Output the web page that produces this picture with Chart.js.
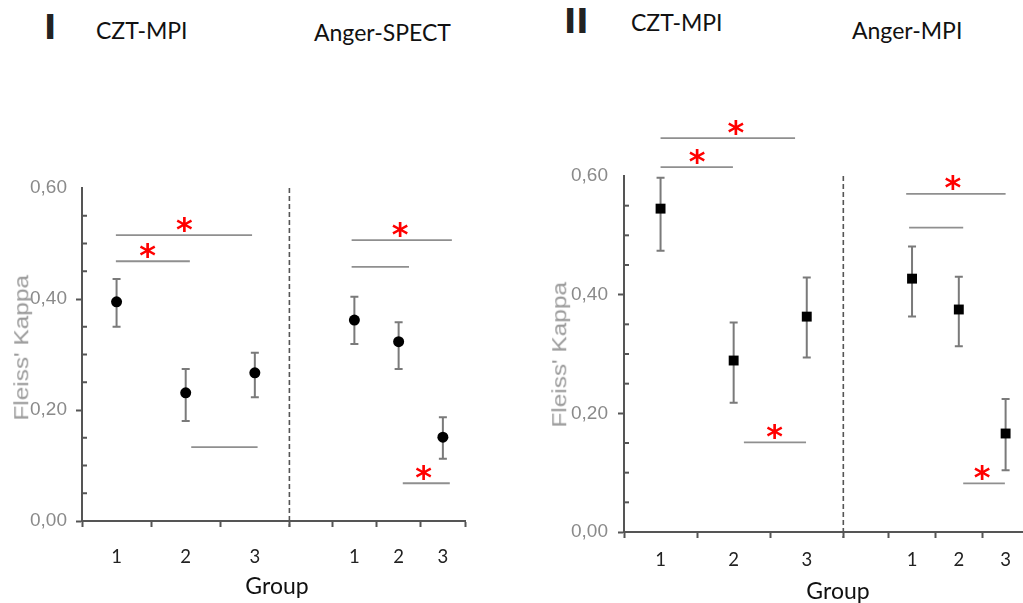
<!DOCTYPE html>
<html lang="en">
<head>
<meta charset="UTF-8">
<title>Fleiss' Kappa by group</title>
<style>
  html, body { margin: 0; padding: 0; background: #fff; overflow: hidden; width: 1023px; height: 603px; }
  body { position: relative; font-family: Lato, sans-serif; color: #111; }
  .lbl { position: absolute; white-space: nowrap; line-height: 1; }
  .roman { font-family: 'DejaVu Sans', sans-serif; font-weight: bold; font-size: 33px; color: #222; }
  .head { font-size: 23px; }
  .group { font-size: 23px; width: 120px; text-align: center; }
  .ytitle { position: absolute; width: 160px; text-align: center; font-family: 'Liberation Sans', Arial, sans-serif;
            font-size: 19.5px; line-height: 1; color: #9a9a9a; transform: rotate(-90deg) scaleX(1.25); }
  canvas { position: absolute; top: 0; }
</style>
</head>
<body>
  <div class="lbl roman" style="left:44px; top:11px;">I</div>
  <div class="lbl head" style="left:96px; top:19px;">CZT-MPI</div>
  <div class="lbl head" style="left:314px; top:21px;">Anger-SPECT</div>
  <div class="lbl roman" style="left:564px; top:5px;">II</div>
  <div class="lbl head" style="left:631px; top:11px;">CZT-MPI</div>
  <div class="lbl head" style="left:852px; top:19px;">Anger-MPI</div>

  <canvas id="panel1" width="520" height="603" style="left:0"></canvas>
  <canvas id="panel2" width="520" height="603" style="left:520px"></canvas>

  <div class="ytitle" style="left:-58px; top:338px;">Fleiss' Kappa</div>
  <div class="ytitle" style="left:480px; top:345px;">Fleiss' Kappa</div>
  <div class="lbl group" style="left:217px; top:574px;">Group</div>
  <div class="lbl group" style="left:778px; top:579px;">Group</div>

<script src="https://cdn.jsdelivr.net/npm/chart.js"></script>
<script>
// groups 1-3 for each camera, placed along one x axis
const groupLabels = ['1', '2', '3', '1', '2', '3'];
const groupX = [0.5, 1.5, 2.5, 3.94, 4.58, 5.22];
const tickX = [0, 1, 2, 3, 3.62, 4.26, 4.9, 5.54];
const separatorX = 3;

// panel I: CZT-MPI vs Anger-SPECT
const kappaI = [0.395, 0.231, 0.267, 0.362, 0.323, 0.151];
const lowI   = [0.350, 0.180, 0.223, 0.319, 0.274, 0.112];
const highI  = [0.436, 0.274, 0.303, 0.404, 0.358, 0.187];
const sigFromI = [0.49, 0.49, 1.58, 3.90, 3.90, 4.64];
const sigToI   = [2.46, 1.56, 2.54, 5.35, 4.73, 5.32];
const sigYI    = [0.515, 0.468, 0.133, 0.506, 0.458, 0.068];
const sigStarI = [1.48, 0.95, null, 4.60, null, 4.94];

// panel II: CZT-MPI vs Anger-MPI
const kappaII = [0.545, 0.289, 0.363, 0.427, 0.375, 0.166];
const lowII   = [0.474, 0.218, 0.294, 0.363, 0.313, 0.104];
const highII  = [0.597, 0.353, 0.429, 0.481, 0.430, 0.224];
const sigFromII = [0.50, 0.50, 1.64, 3.86, 3.90, 4.64];
const sigToII   = [2.34, 1.49, 2.49, 5.22, 4.64, 5.21];
const sigYII    = [0.664, 0.615, 0.151, 0.570, 0.513, 0.082];
const sigStarII = [1.53, 1.00, 2.06, 4.50, null, 4.90];

const near = (a, b) => Math.abs(a - b) < 1e-6;
const isMajorY = v => Math.round(v * 100) % 20 === 0;

const overlay = o => ({
  id: 'overlay',
  beforeDatasetsDraw(chart) {
    const { ctx, chartArea, scales: { x, y } } = chart;
    ctx.save();

    // dashed separator between the two cameras
    const sx = x.getPixelForValue(separatorX);
    ctx.strokeStyle = '#555';
    ctx.lineWidth = 1.6;
    ctx.setLineDash([5, 3]);
    ctx.beginPath();
    ctx.moveTo(sx, chartArea.top);
    ctx.lineTo(sx, chartArea.bottom + 6);
    ctx.stroke();
    ctx.setLineDash([]);

    // minor y ticks point inward
    ctx.lineWidth = 2;
    y.ticks.forEach(t => {
      if (isMajorY(t.value)) return;
      const py = y.getPixelForValue(t.value);
      ctx.beginPath();
      ctx.moveTo(chartArea.left, py);
      ctx.lineTo(chartArea.left + 5, py);
      ctx.stroke();
    });

    // error bars
    ctx.strokeStyle = '#7a7a7a';
    ctx.lineWidth = 2;
    groupX.forEach((gx, i) => {
      const px = x.getPixelForValue(gx);
      const top = y.getPixelForValue(o.high[i]);
      const bot = y.getPixelForValue(o.low[i]);
      ctx.beginPath();
      ctx.moveTo(px, top); ctx.lineTo(px, bot);
      ctx.moveTo(px - 4, top); ctx.lineTo(px + 4, top);
      ctx.moveTo(px - 4, bot); ctx.lineTo(px + 4, bot);
      ctx.stroke();
    });

    // comparison lines
    ctx.strokeStyle = '#8f8f8f';
    ctx.lineWidth = 1.8;
    o.sigFrom.forEach((a, i) => {
      const py = y.getPixelForValue(o.sigY[i]);
      ctx.beginPath();
      ctx.moveTo(x.getPixelForValue(a), py);
      ctx.lineTo(x.getPixelForValue(o.sigTo[i]), py);
      ctx.stroke();
    });

    // significance stars
    ctx.fillStyle = '#ff0000';
    ctx.font = 'bold 32px "DejaVu Sans"';
    ctx.textAlign = 'center';
    ctx.textBaseline = 'alphabetic';
    const m = ctx.measureText('*');
    const off = (m.actualBoundingBoxAscent - m.actualBoundingBoxDescent) / 2;
    o.sigStar.forEach((s, i) => {
      if (s === null) return;
      ctx.fillText('*', x.getPixelForValue(s), y.getPixelForValue(o.sigY[i]) - 11 + off);
    });
    ctx.restore();
  }
});

function panel(id, o) {
  return new Chart(document.getElementById(id), {
    type: 'scatter',
    data: {
      datasets: [{
        data: groupX.map((gx, i) => ({ x: gx, y: o.kappa[i] })),
        pointStyle: o.pointStyle,
        pointRadius: o.pointRadius,
        backgroundColor: '#000',
        borderColor: '#000',
        borderWidth: 0,
        clip: false
      }]
    },
    options: {
      responsive: false,
      animation: false,
      layout: { padding: o.padding },
      plugins: { legend: { display: false }, tooltip: { enabled: false } },
      scales: {
        x: {
          type: 'linear',
          min: 0,
          max: tickX[tickX.length - 1],
          afterBuildTicks: s => {
            s.ticks = tickX.concat(groupX).sort((a, b) => a - b).map(v => ({ value: v }));
          },
          afterFit: s => { s.height = o.xHeight; },
          border: { color: '#555', width: 2 },
          grid: {
            drawOnChartArea: false,
            tickLength: 6,
            tickWidth: 2,
            tickColor: c => tickX.some(v => near(v, c.tick.value)) ? '#555' : 'rgba(0,0,0,0)'
          },
          ticks: {
            autoSkip: false,
            maxRotation: 0,
            padding: o.xPad,
            color: '#222',
            font: { family: 'Lato', size: 18.5 },
            callback: v => {
              const i = groupX.findIndex(g => near(g, v));
              return i < 0 ? '' : groupLabels[i];
            }
          }
        },
        y: {
          min: 0,
          max: 0.6,
          afterFit: s => { s.width = o.yWidth; },
          border: { color: '#555', width: 2 },
          grid: {
            drawOnChartArea: false,
            tickLength: 6,
            tickWidth: 2,
            tickColor: c => (isMajorY(c.tick.value) && c.tick.value < 0.59) ? '#555' : 'rgba(0,0,0,0)'
          },
          ticks: {
            stepSize: 0.05,
            autoSkip: false,
            padding: o.yPad,
            color: '#8a8a8a',
            font: { family: "'Liberation Sans Narrow', 'Liberation Sans', Arial", size: 19 },
            callback: v => isMajorY(v) ? v.toFixed(2).replace('.', ',') : ''
          }
        }
      }
    },
    plugins: [overlay(o)]
  });
}

panel('panel1', {
  kappa: kappaI, low: lowI, high: highI,
  sigFrom: sigFromI, sigTo: sigToI, sigY: sigYI, sigStar: sigStarI,
  pointStyle: 'circle', pointRadius: 5.5,
  padding: { top: 188, left: 0, right: 55, bottom: 0 },
  yWidth: 82, xHeight: 82, xPad: 19, yPad: 9
});

panel('panel2', {
  kappa: kappaII, low: lowII, high: highII,
  sigFrom: sigFromII, sigTo: sigToII, sigY: sigYII, sigStar: sigStarII,
  pointStyle: 'rect', pointRadius: 7,
  padding: { top: 176, left: 0, right: 8, bottom: 0 },
  yWidth: 104, xHeight: 71, xPad: 11, yPad: 10
});
</script>
</body>
</html>
